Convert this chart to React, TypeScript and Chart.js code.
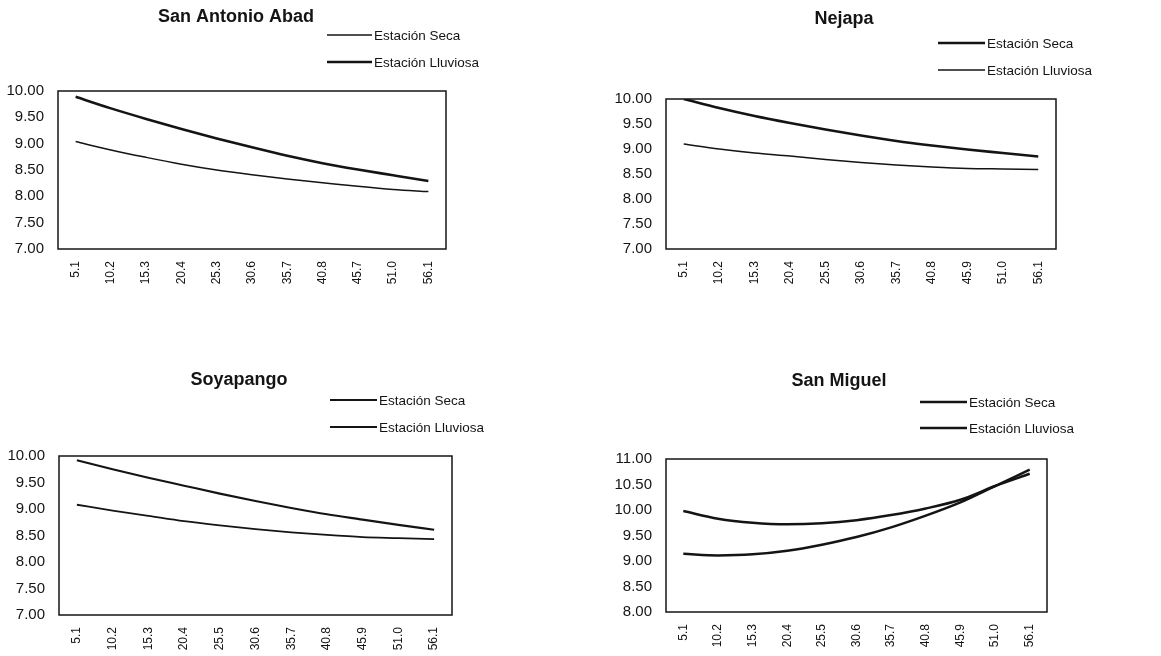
import React, { useEffect, useRef } from "react";
import { Chart, registerables } from "chart.js";

Chart.register(...registerables);

const FONT = '"Liberation Sans", Arial, Helvetica, sans-serif';
const INK = "#141414";

// ---------- DATA ----------
const distLabelsA = ["5.1", "10.2", "15.3", "20.4", "25.3", "30.6", "35.7", "40.8", "45.7", "51.0", "56.1"];
const distLabelsB = ["5.1", "10.2", "15.3", "20.4", "25.5", "30.6", "35.7", "40.8", "45.9", "51.0", "56.1"];
const seriesNames = ["Estación Seca", "Estación Lluviosa"];

const sanAntonioSeca = [9.04, 8.88, 8.74, 8.61, 8.5, 8.41, 8.33, 8.26, 8.19, 8.13, 8.09];
const sanAntonioLluviosa = [9.89, 9.67, 9.47, 9.28, 9.1, 8.93, 8.77, 8.63, 8.51, 8.4, 8.29];

const nejapaSeca = [10.0, 9.82, 9.66, 9.52, 9.39, 9.27, 9.16, 9.07, 8.99, 8.92, 8.85];
const nejapaLluviosa = [9.1, 9.0, 8.92, 8.86, 8.79, 8.73, 8.68, 8.64, 8.61, 8.6, 8.59];

const soyapangoSeca = [9.92, 9.75, 9.59, 9.44, 9.29, 9.15, 9.02, 8.9, 8.8, 8.7, 8.61];
const soyapangoLluviosa = [9.08, 8.97, 8.87, 8.77, 8.69, 8.62, 8.56, 8.51, 8.47, 8.45, 8.43];

const sanMiguelSeca = [9.98, 9.83, 9.75, 9.72, 9.74, 9.8, 9.9, 10.03, 10.2, 10.47, 10.71];
const sanMiguelLluviosa = [9.14, 9.11, 9.13, 9.2, 9.32, 9.47, 9.66, 9.89, 10.15, 10.47, 10.79];

const yRangeLow = [7, 10];
const yRangeHigh = [8, 11];
const yStep = 0.5;

// ---------- PANEL ----------
type Rect = { left: number; top: number; right: number; bottom: number };
type PanelProps = {
  title: string;
  labels: string[];
  seca: number[];
  lluviosa: number[];
  widths: [number, number];
  yRange: number[];
  pos: { x: number; y: number; w: number; h: number };
  plot: Rect;
  titleAt: { x: number; y: number };
  legendAt: { x1: number; x2: number; y1: number; y2: number };
};

function Panel(p: PanelProps) {
  const ref = useRef<HTMLCanvasElement | null>(null);

  useEffect(() => {
    if (!ref.current) return;
    const decor = {
      id: "decor",
      afterDraw(chart: any) {
        const ctx = chart.ctx;
        const a = chart.chartArea;
        ctx.save();
        ctx.strokeStyle = INK;
        ctx.lineWidth = 1.5;
        ctx.strokeRect(a.left, a.top, a.right - a.left, a.bottom - a.top);
        ctx.fillStyle = INK;
        ctx.font = `bold 18px ${FONT}`;
        ctx.textAlign = "center";
        ctx.textBaseline = "middle";
        ctx.fillText(p.title, p.titleAt.x, p.titleAt.y);
        ctx.font = `13.5px ${FONT}`;
        ctx.textAlign = "left";
        const ys = [p.legendAt.y1, p.legendAt.y2];
        chart.data.datasets.forEach((ds: any, i: number) => {
          ctx.beginPath();
          ctx.strokeStyle = ds.borderColor;
          ctx.lineWidth = ds.borderWidth;
          ctx.moveTo(p.legendAt.x1, ys[i]);
          ctx.lineTo(p.legendAt.x2, ys[i]);
          ctx.stroke();
          ctx.fillStyle = INK;
          ctx.fillText(ds.label, p.legendAt.x2 + 2, ys[i] + 1);
        });
        ctx.restore();
      },
    };

    const chart = new Chart(ref.current, {
      type: "line",
      data: {
        labels: p.labels,
        datasets: [
          {
            label: seriesNames[0],
            data: p.seca,
            borderColor: INK,
            borderWidth: p.widths[0],
            pointRadius: 0,
            cubicInterpolationMode: "monotone",
            fill: false,
          },
          {
            label: seriesNames[1],
            data: p.lluviosa,
            borderColor: INK,
            borderWidth: p.widths[1],
            pointRadius: 0,
            cubicInterpolationMode: "monotone",
            fill: false,
          },
        ],
      },
      options: {
        responsive: false,
        animation: false,
        devicePixelRatio: 1,
        layout: {
          padding: {
            left: 0,
            top: p.plot.top,
            right: p.pos.w - p.plot.right,
            bottom: 0,
          },
        },
        plugins: {
          legend: { display: false },
          title: { display: false },
          tooltip: { enabled: false },
        },
        scales: {
          x: {
            type: "category",
            offset: true,
            grid: { display: false, drawTicks: false },
            border: { display: false },
            ticks: {
              autoSkip: false,
              minRotation: 90,
              maxRotation: 90,
              padding: 12,
              color: INK,
              font: { family: FONT, size: 12 },
            },
            afterFit: (s: any) => {
              s.height = p.pos.h - p.plot.bottom;
            },
          },
          y: {
            min: p.yRange[0],
            max: p.yRange[1],
            grid: { display: false, drawTicks: false },
            border: { display: false },
            ticks: {
              stepSize: yStep,
              padding: 14,
              color: INK,
              font: { family: FONT, size: 15 },
              callback: (v: any) => Number(v).toFixed(2),
            },
            afterFit: (s: any) => {
              s.width = p.plot.left;
            },
          },
        },
      },
      plugins: [decor],
    } as any);
    return () => chart.destroy();
  }, []);

  return (
    <canvas
      ref={ref}
      width={p.pos.w}
      height={p.pos.h}
      style={{ position: "absolute", left: p.pos.x, top: p.pos.y, width: p.pos.w, height: p.pos.h }}
    />
  );
}

export default function App() {
  return (
    <div style={{ position: "absolute", left: 0, top: 0, width: 1161, height: 656, background: "#fff", overflow: "hidden" }}>
      <Panel
        title="San Antonio Abad"
        labels={distLabelsA}
        seca={sanAntonioSeca}
        lluviosa={sanAntonioLluviosa}
        widths={[1.5, 2.6]}
        yRange={yRangeLow}
        pos={{ x: 0, y: 0, w: 580, h: 325 }}
        plot={{ left: 58, top: 91, right: 446, bottom: 249 }}
        titleAt={{ x: 236, y: 17 }}
        legendAt={{ x1: 327, x2: 372, y1: 35, y2: 62 }}
      />
      <Panel
        title="Nejapa"
        labels={distLabelsB}
        seca={nejapaSeca}
        lluviosa={nejapaLluviosa}
        widths={[2.6, 1.5]}
        yRange={yRangeLow}
        pos={{ x: 580, y: 0, w: 581, h: 325 }}
        plot={{ left: 86, top: 99, right: 476, bottom: 249 }}
        titleAt={{ x: 264, y: 19 }}
        legendAt={{ x1: 358, x2: 405, y1: 43, y2: 70 }}
      />
      <Panel
        title="Soyapango"
        labels={distLabelsB}
        seca={soyapangoSeca}
        lluviosa={soyapangoLluviosa}
        widths={[2.1, 1.8]}
        yRange={yRangeLow}
        pos={{ x: 0, y: 330, w: 580, h: 326 }}
        plot={{ left: 59, top: 126, right: 452, bottom: 285 }}
        titleAt={{ x: 239, y: 50 }}
        legendAt={{ x1: 330, x2: 377, y1: 70, y2: 97 }}
      />
      <Panel
        title="San Miguel"
        labels={distLabelsB}
        seca={sanMiguelSeca}
        lluviosa={sanMiguelLluviosa}
        widths={[2.5, 2.5]}
        yRange={yRangeHigh}
        pos={{ x: 580, y: 330, w: 581, h: 326 }}
        plot={{ left: 86, top: 129, right: 467, bottom: 282 }}
        titleAt={{ x: 259, y: 51 }}
        legendAt={{ x1: 340, x2: 387, y1: 72, y2: 98 }}
      />
    </div>
  );
}
